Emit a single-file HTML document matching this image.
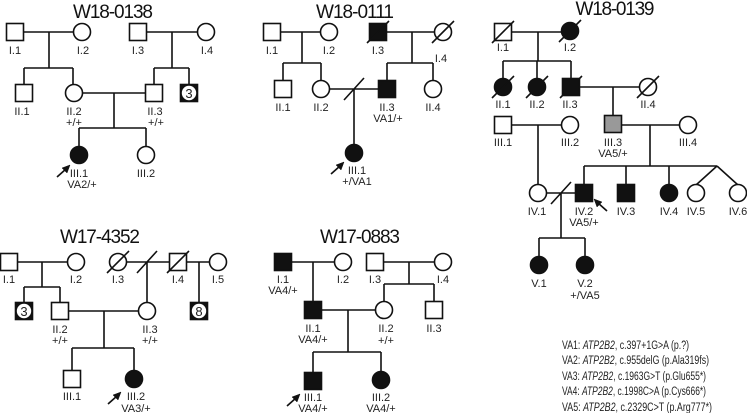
<!DOCTYPE html>
<html><head><meta charset="utf-8"><style>
html,body{margin:0;padding:0;background:#fff;}
svg{display:block;}
text{font-family:"Liberation Sans",sans-serif;fill:#222;}
.t{font-size:19px;text-anchor:middle;fill:#111;}
.l{font-size:11px;text-anchor:middle;}
.g{font-size:11.5px;}
</style></head><body>
<svg width="747" height="413" viewBox="0 0 747 413" xmlns="http://www.w3.org/2000/svg">
<g stroke="#111" stroke-width="1.6" fill="none">
<!-- W18-0138 -->
<path d="M23 32H73M49 32V68M24 68H73M24 68V84M73 68V84"/>
<path d="M147 32H197M172 32V68M154 68H189M154 68V84M189 68V84"/>
<path d="M83 93H146M114 93V128M79 128H146M79 128V146M146 128V146"/>
<rect x="6.5" y="23.5" width="17" height="17" fill="#fff"/>
<circle cx="82" cy="32" r="8.5" fill="#fff"/>
<rect x="129.5" y="23.5" width="17" height="17" fill="#fff"/>
<circle cx="206" cy="32" r="8.5" fill="#fff"/>
<rect x="15.5" y="84.5" width="17" height="17" fill="#fff"/>
<circle cx="74" cy="93" r="8.5" fill="#fff"/>
<rect x="145.5" y="84.5" width="17" height="17" fill="#fff"/>
<rect x="180.5" y="84.5" width="17" height="17" fill="#111"/>
<circle cx="79" cy="155" r="8.5" fill="#111"/>
<circle cx="146" cy="155" r="8.5" fill="#fff"/>
<!-- W18-0111 -->
<path d="M281 32H321M302 32V63M283 63H321M283 63V81M321 63V81"/>
<path d="M387 32H435M412 32V63M387 63H433M387 63V81M433 63V81"/>
<path d="M330 89H379M354 89V145M344 100L364 78"/>
<rect x="263.5" y="23.5" width="17" height="17" fill="#fff"/>
<circle cx="329" cy="32" r="8.5" fill="#fff"/>
<rect x="369.5" y="23.5" width="17" height="17" fill="#111"/>
<path d="M367 43L389 21"/>
<circle cx="443" cy="32" r="8.5" fill="#fff"/>
<path d="M432 43L454 21"/>
<rect x="274.5" y="80.5" width="17" height="17" fill="#fff"/>
<circle cx="321" cy="89" r="8.5" fill="#fff"/>
<rect x="378.5" y="80.5" width="17" height="17" fill="#111"/>
<circle cx="433" cy="89" r="8.5" fill="#fff"/>
<circle cx="354" cy="153" r="8.5" fill="#111"/>
<!-- W18-0139 -->
<path d="M511 32H562M538 32V61M503 61H571M503 61V79M537 61V79M571 61V79"/>
<path d="M579 87H640M613 87V115"/>
<path d="M511 125H562M538 125V185"/>
<path d="M621 125H680M650 125V166M584 166H717M584 166V185M626 166V185M669 166V185M717 166L696 185M717 166L738 185"/>
<path d="M546 193H576M551 204L571 182M561 193V238M539 238H585M539 238V257M585 238V257"/>
<rect x="494.5" y="23.5" width="17" height="17" fill="#fff"/>
<path d="M492 43L514 21"/>
<circle cx="570" cy="31" r="8.5" fill="#111"/><path d="M559 42L581 20"/>
<circle cx="503" cy="87" r="8.5" fill="#111"/><path d="M492 98L514 76"/>
<circle cx="537" cy="87" r="8.5" fill="#111"/><path d="M526 98L548 76"/>
<rect x="562.5" y="78.5" width="17" height="17" fill="#111"/><path d="M560 98L582 76"/>
<circle cx="648" cy="87" r="8.5" fill="#fff"/><path d="M637 98L659 76"/>
<rect x="494.5" y="116.5" width="17" height="17" fill="#fff"/>
<circle cx="570" cy="125" r="8.5" fill="#fff"/>
<rect x="604.5" y="115.5" width="17" height="17" fill="#999"/>
<circle cx="688" cy="125" r="8.5" fill="#fff"/>
<circle cx="538" cy="193" r="8.5" fill="#fff"/>
<rect x="575.5" y="184.5" width="17" height="17" fill="#111"/>
<rect x="617.5" y="184.5" width="17" height="17" fill="#111"/>
<circle cx="669" cy="193" r="8.5" fill="#111"/>
<circle cx="696" cy="193" r="8.5" fill="#fff"/>
<circle cx="738" cy="193" r="8.5" fill="#fff"/>
<circle cx="539" cy="265" r="8.5" fill="#111"/>
<circle cx="585" cy="265" r="8.5" fill="#111"/>
<!-- W17-4352 -->
<path d="M18 262H68M42 262V287M24 287H60M24 287V303M60 287V303"/>
<path d="M127 262H169M137 273L157 251M147 262V302"/>
<path d="M187 262H209M199 262V303"/>
<path d="M69 311H138M104 311V348M72 348H134M72 348V370M134 348V370"/>
<rect x="0.5" y="253.5" width="17" height="17" fill="#fff"/>
<circle cx="76" cy="262" r="8.5" fill="#fff"/>
<circle cx="118" cy="262" r="8.5" fill="#fff"/><path d="M107 273L129 251"/>
<rect x="169.5" y="253.5" width="17" height="17" fill="#fff"/><path d="M167 273L189 251"/>
<circle cx="218" cy="262" r="8.5" fill="#fff"/>
<rect x="15.5" y="302.5" width="17" height="17" fill="#111"/>
<rect x="51.5" y="302.5" width="17" height="17" fill="#fff"/>
<circle cx="147" cy="311" r="8.5" fill="#fff"/>
<rect x="190.5" y="302.5" width="17" height="17" fill="#111"/>
<rect x="63.5" y="370.5" width="17" height="17" fill="#fff"/>
<circle cx="134" cy="379" r="8.5" fill="#111"/>
<!-- W17-0883 -->
<path d="M291 262H335M313 262V301"/>
<path d="M383 262H435M409 262V284M384 284H434M384 284V302M434 284V302"/>
<path d="M321 310H376M348 310V352M313 352H381M313 352V372M381 352V372"/>
<rect x="274.5" y="253.5" width="17" height="17" fill="#111"/>
<circle cx="343" cy="262" r="8.5" fill="#fff"/>
<rect x="366.5" y="253.5" width="17" height="17" fill="#fff"/>
<circle cx="443" cy="262" r="8.5" fill="#fff"/>
<rect x="304.5" y="301.5" width="17" height="17" fill="#111"/>
<circle cx="384" cy="310" r="8.5" fill="#fff"/>
<rect x="425.5" y="301.5" width="17" height="17" fill="#fff"/>
<rect x="304.5" y="372.5" width="17" height="17" fill="#111"/>
<circle cx="381" cy="380" r="8.5" fill="#111"/>
</g>
<g fill="#fff"><circle cx="189" cy="93" r="7.2"/><circle cx="24" cy="311" r="7.2"/><circle cx="199" cy="311" r="7.2"/></g>
<g text-anchor="middle"><text x="189" y="98" style="font-size:13px">3</text><text x="24" y="316" style="font-size:13px">3</text><text x="199" y="316" style="font-size:13px">8</text></g>
<g stroke="#111" stroke-width="1.6" fill="#111">
<path d="M57 177L66 169"/><path d="M70 165L62 168L67 173Z" stroke-width="0.5"/>
<path d="M331 174L340 166"/><path d="M344 162L336 165L341 170Z" stroke-width="0.5"/>
<path d="M607 211L598 203"/><path d="M594 199L597 207L602 202Z" stroke-width="0.5"/>
<path d="M108 404L117 396"/><path d="M121 392L113 395L118 400Z" stroke-width="0.5"/>
<path d="M287 406L296 398"/><path d="M300 394L292 397L297 402Z" stroke-width="0.5"/>
</g>
<text class="t" x="113" y="18" textLength="80">W18-0138</text>
<text class="t" x="355" y="18" textLength="78">W18-0111</text>
<text class="t" x="615" y="15" textLength="79">W18-0139</text>
<text class="t" x="100" y="243" textLength="80">W17-4352</text>
<text class="t" x="360" y="243" textLength="80">W17-0883</text>
<g>
<text class="l" x="15" y="54">I.1</text><text class="l" x="83" y="54">I.2</text><text class="l" x="138" y="54">I.3</text><text class="l" x="207" y="54">I.4</text>
<text class="l" x="22" y="115">II.1</text><text class="l" x="74" y="115">II.2</text><text class="l" x="74" y="126">+/+</text>
<text class="l" x="155" y="115">II.3</text><text class="l" x="156" y="126">+/+</text>
<text class="l" x="79" y="177">III.1</text><text class="l" x="82" y="188">VA2/+</text><text class="l" x="146" y="177">III.2</text>

<text class="l" x="272" y="54">I.1</text><text class="l" x="329" y="54">I.2</text><text class="l" x="378" y="54">I.3</text><text class="l" x="441" y="62">I.4</text>
<text class="l" x="283" y="111">II.1</text><text class="l" x="321" y="111">II.2</text><text class="l" x="387" y="111">II.3</text><text class="l" x="388" y="122">VA1/+</text><text class="l" x="433" y="111">II.4</text>
<text class="l" x="357" y="174">III.1</text><text class="l" x="357" y="185">+/VA1</text>

<text class="l" x="503" y="51">I.1</text><text class="l" x="570" y="51">I.2</text>
<text class="l" x="503" y="108">II.1</text><text class="l" x="537" y="108">II.2</text><text class="l" x="570" y="108">II.3</text><text class="l" x="648" y="108">II.4</text>
<text class="l" x="503" y="146">III.1</text><text class="l" x="570" y="146">III.2</text><text class="l" x="613" y="146">III.3</text><text class="l" x="613" y="157">VA5/+</text><text class="l" x="688" y="146">III.4</text>
<text class="l" x="537" y="215">IV.1</text><text class="l" x="584" y="215">IV.2</text><text class="l" x="584" y="226">VA5/+</text><text class="l" x="626" y="215">IV.3</text><text class="l" x="669" y="215">IV.4</text><text class="l" x="696" y="215">IV.5</text><text class="l" x="738" y="215">IV.6</text>
<text class="l" x="539" y="287">V.1</text><text class="l" x="585" y="287">V.2</text><text class="l" x="585" y="299">+/VA5</text>

<text class="l" x="9" y="283">I.1</text><text class="l" x="76" y="283">I.2</text><text class="l" x="118" y="283">I.3</text><text class="l" x="178" y="283">I.4</text><text class="l" x="218" y="283">I.5</text>
<text class="l" x="60" y="333">II.2</text><text class="l" x="60" y="344">+/+</text><text class="l" x="150" y="333">II.3</text><text class="l" x="150" y="344">+/+</text>
<text class="l" x="72" y="400">III.1</text><text class="l" x="136" y="400">III.2</text><text class="l" x="136" y="412">VA3/+</text>

<text class="l" x="283" y="283">I.1</text><text class="l" x="283" y="294">VA4/+</text><text class="l" x="343" y="283">I.2</text><text class="l" x="375" y="283">I.3</text><text class="l" x="443" y="283">I.4</text>
<text class="l" x="313" y="332">II.1</text><text class="l" x="313" y="343">VA4/+</text><text class="l" x="386" y="332">II.2</text><text class="l" x="386" y="344">+/+</text><text class="l" x="434" y="332">II.3</text>
<text class="l" x="313" y="401">III.1</text><text class="l" x="313" y="412">VA4/+</text><text class="l" x="381" y="401">III.2</text><text class="l" x="381" y="412">VA4/+</text>
</g>
<g>
<text class="g" x="562" y="349" textLength="127" lengthAdjust="spacingAndGlyphs">VA1: <tspan font-style="italic">ATP2B2</tspan>, c.397+1G&gt;A (p.?)</text>
<text class="g" x="562" y="364" textLength="147" lengthAdjust="spacingAndGlyphs">VA2: <tspan font-style="italic">ATP2B2</tspan>, c.955delG (p.Ala319fs)</text>
<text class="g" x="562" y="380" textLength="144" lengthAdjust="spacingAndGlyphs">VA3: <tspan font-style="italic">ATP2B2</tspan>, c.1963G&gt;T (p.Glu655*)</text>
<text class="g" x="562" y="395" textLength="144" lengthAdjust="spacingAndGlyphs">VA4: <tspan font-style="italic">ATP2B2</tspan>, c.1998C&gt;A (p.Cys666*)</text>
<text class="g" x="562" y="411" textLength="150" lengthAdjust="spacingAndGlyphs">VA5: <tspan font-style="italic">ATP2B2</tspan>, c.2329C&gt;T (p.Arg777*)</text>
</g>
</svg>
</body></html>
